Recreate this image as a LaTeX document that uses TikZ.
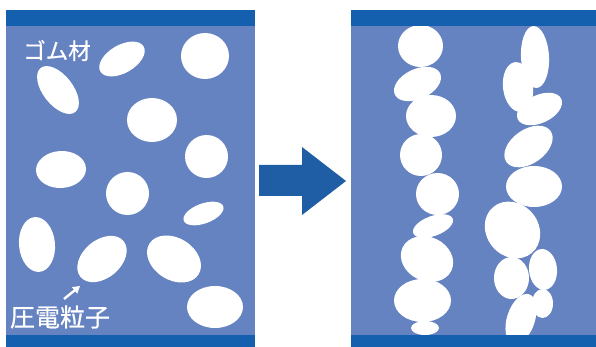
\documentclass[tikz,border=0pt]{standalone}
\usepackage{fontspec}
\newfontfamily\jp{Noto Sans CJK JP}[FakeBold=0.6]
\usetikzlibrary{arrows.meta}
\definecolor{panelblue}{HTML}{6582C1}
\definecolor{barblue}{HTML}{1460AE}
\definecolor{arrowblue}{HTML}{1F5DA5}
\tikzset{
  particle/.style={fill=white},
  panel/.style={fill=panelblue},
  bar/.style={fill=barblue},
  lbl/.style={text=white, inner sep=0pt, font=\jp},
}
\newcommand{\partell}[5]{\fill[particle, rotate around={#5:(#1,#2)}] (#1,#2) ellipse [x radius=#3, y radius=#4];}
\begin{document}
\begin{tikzpicture}[x=1pt,y=-1pt]
\useasboundingbox (0,0) rectangle (596,347);
% left panel
\fill[panel] (6,26) rectangle (255,335);
\partell{122}{59}{25}{14}{30}
\partell{205}{56}{24}{23}{0}
\partell{58}{90}{28}{15}{-52}
\partell{152}{120}{25}{22}{0}
\partell{206.5}{156.5}{21.5}{21.5}{0}
\partell{61}{169.5}{25}{18.5}{3}
\partell{127.5}{193.5}{21.5}{21.5}{0}
\partell{203.5}{213.5}{21}{10}{20}
\partell{37}{244.5}{27.5}{18}{95}
\partell{102}{259}{28}{19}{40}
\partell{174}{259}{29}{21}{-32}
\partell{215}{307}{28}{21}{0}
\fill[bar] (6,10) rectangle (255,26);
\fill[bar] (6,335) rectangle (255,347);
\node[lbl, font=\jp\fontsize{22.5}{22.5}\selectfont] (gomu) at (57,50.5) {ゴム材};
\node[lbl, font=\jp\fontsize{25}{25}\selectfont] (atsuden) at (60,317) {圧電粒子};
\coordinate (ptip) at (80,286);
\coordinate (ptail) at (64,299);
\draw[white, line width=2.4pt, -{Triangle[length=7pt,width=8pt]}] (ptail) -- (ptip);
% big arrow
\fill[arrowblue] (259,165) -- (302,165) -- (302,147) -- (346,181) -- (302,215) -- (302,196) -- (259,196) -- cycle;
% right panel
\fill[panel] (351,26) rectangle (596,335);
% left column
\partell{420.5}{46}{22.5}{21}{0}
\partell{417.5}{84}{25}{15}{25}
\partell{431}{116}{25}{21}{0}
\partell{421}{155}{21}{21}{0}
\partell{437.5}{194}{21.5}{21}{0}
\partell{433}{226}{21}{10}{20}
\partell{427}{259}{27}{22}{-25}
\partell{422.5}{300.5}{28.5}{21.5}{0}
\partell{425}{328}{14}{7}{0}
% right column
\partell{535}{57}{31}{14}{93}
\partell{518}{87}{25}{15}{97}
\partell{539.5}{109}{24}{14}{25}
\partell{528.5}{146.5}{27}{17}{35}
\partell{534}{186.5}{28}{20.5}{0}
\partell{512.5}{230}{30}{26}{-50}
\partell{511.5}{278}{17.5}{21}{0}
\partell{543}{269.5}{20.5}{14}{95}
\partell{542.5}{303.5}{14.5}{10.5}{90}
\partell{521}{319}{26}{14}{72}
\fill[bar] (351,10) rectangle (596,26);
\fill[bar] (351,335) rectangle (596,347);
\end{tikzpicture}
\end{document}
